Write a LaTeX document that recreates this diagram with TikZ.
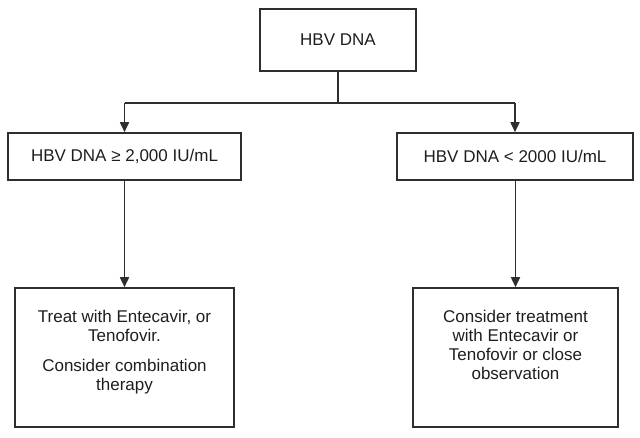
\documentclass[tikz,border=0pt]{standalone}
\usepackage{fontspec}
\setmainfont{Liberation Sans}
\usetikzlibrary{arrows.meta}
\definecolor{linec}{HTML}{2E2E2E}
\definecolor{textc}{HTML}{1E1E1E}
\tikzset{
  box/.style={draw=linec, line width=1.6pt, rectangle, inner sep=0pt, text=textc,
    font=\fontsize{17}{19}\selectfont},
  txt/.style={inner sep=0pt, align=center, text=textc, font=\fontsize{17}{19}\selectfont},
  conn/.style={draw=linec, line width=1.7pt},
  arr/.style={conn, -{Triangle[width=9pt,length=10pt]}}
}
\begin{document}
\begin{tikzpicture}[x=1pt,y=1pt]
\useasboundingbox (0,0) rectangle (640,437);
\node[box, minimum width=156pt, minimum height=62pt] (top) at (338,397) {HBV DNA};
\node[box, minimum width=233pt, minimum height=47pt] (lm) at (124.5,280.5) {HBV DNA ≥ 2,000 IU/mL};
\node[box, minimum width=236pt, minimum height=47pt] (rm) at (515,280.5) {HBV DNA < 2000 IU/mL};
\node[box, minimum width=219pt, minimum height=139pt] (lb) at (124.5,79.5) {};
\node[box, minimum width=205pt, minimum height=139pt] (rb) at (515.5,79.5) {};
\node[txt, anchor=north] (lbt) at (124.5,127) {Treat with Entecavir, or\\Tenofovir.\\[11pt]Consider combination\\therapy};
\node[txt, anchor=north] (rbt) at (515.5,127) {Consider treatment\\with Entecavir or\\Tenofovir or close\\observation};
\coordinate (hl) at (124.5,334);
\coordinate (hr) at (515,334);
\draw[conn] (top.south) -- (top.south |- hl);
\draw[conn] (hl) -- (hr);
\draw[arr] (hl) -- (hl |- lm.north);
\draw[arr] (hr) -- (hr |- rm.north);
\draw[arr] (lm.south) -- (lb.north);
\draw[arr] (rb.north |- rm.south) -- (rb.north);
\end{tikzpicture}
\end{document}
